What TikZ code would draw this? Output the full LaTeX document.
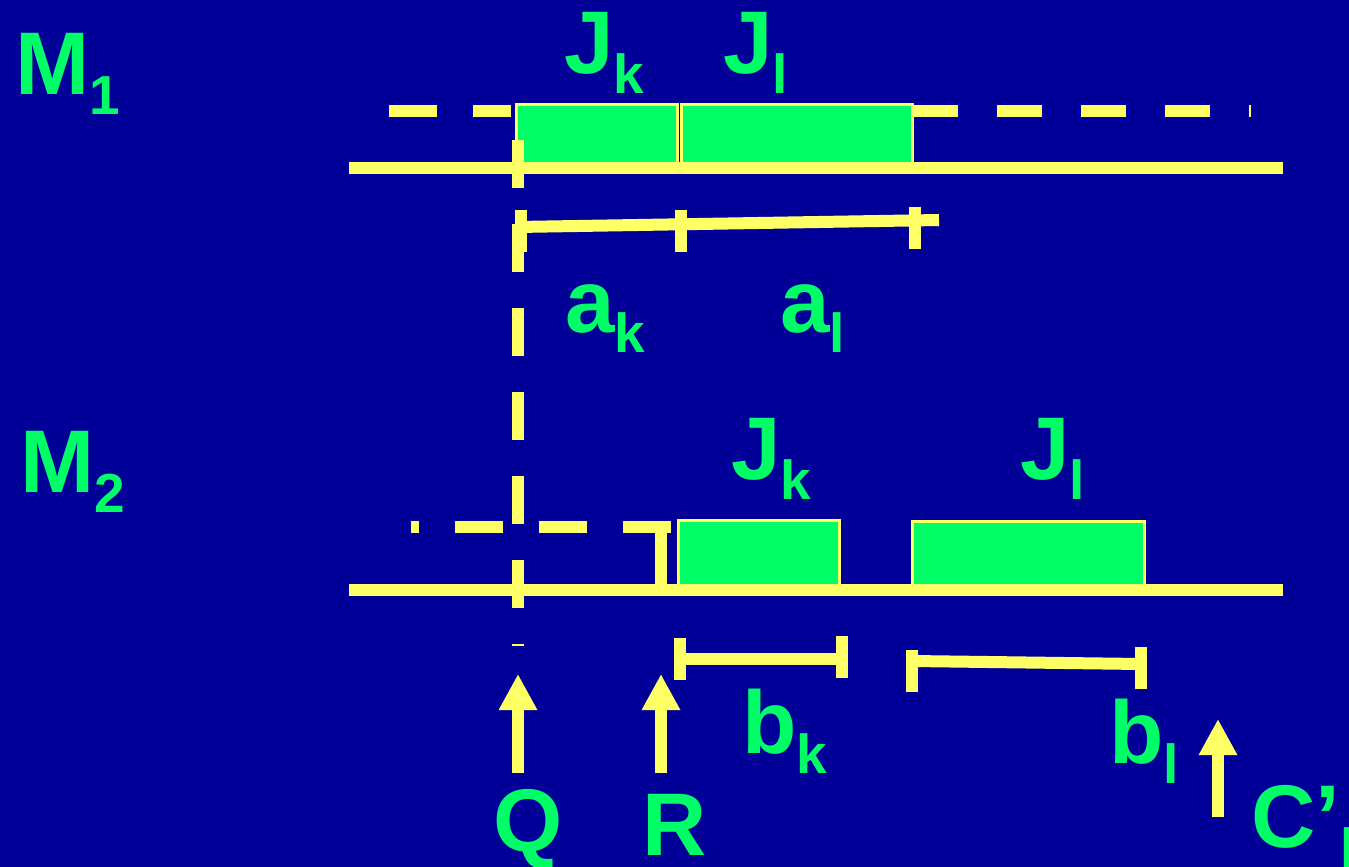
\documentclass[tikz,border=0pt]{standalone}
\usepackage{fontspec}
\setmainfont{Liberation Sans}
\usetikzlibrary{arrows.meta}
\definecolor{bg}{HTML}{000099}
\definecolor{ylw}{HTML}{FFFF66}
\definecolor{grn}{HTML}{00FF66}
\newcommand{\sublbl}[2]{#1\raisebox{-20pt}{\fontsize{55}{55}\selectfont #2}}
\tikzset{
  lbl/.style={text=grn, font=\bfseries\fontsize{89}{89}\selectfont, anchor=base west, inner sep=0pt},
  axis/.style={ylw, line width=12pt},
  gapline/.style={axis, dash pattern=on 48pt off 36pt},
  job/.style={fill=grn, draw=ylw, line width=3pt},
  ptr/.style={axis, -{Triangle[width=36pt,length=36pt]}}
}
\begin{document}
\begin{tikzpicture}[x=1pt,y=-1pt]
    \fill[bg] (0,0) rectangle (1349,867);
    \useasboundingbox (0,0) rectangle (1349,867);
    % machine 1
    \draw[job] (516,104) rectangle (677,168);
    \draw[job] (681,104) rectangle (912,168);
    \draw[axis] (349,167.5) -- (1283,167.5);
    \draw[gapline] (389,111) -- (511,111);
    \draw[axis, dash pattern=on 45pt off 39pt] (913,111) -- (1251,111);
    \node[lbl] (m1) at (15,95) {\sublbl{M}{1}};
    \node[lbl] (jk1) at (564,74) {\sublbl{J}{k}};
    \node[lbl] (jl1) at (723,74) {\sublbl{J}{l}};
    % a intervals
    \draw[axis] (517,227) -- (939,220);
    \draw[axis] (521,210) -- (521,252);
    \draw[axis] (681,210) -- (681,252);
    \draw[axis] (915,207) -- (915,249);
    \node[lbl] (ak) at (565,332) {\sublbl{a}{k}};
    \node[lbl] (al) at (780,332) {\sublbl{a}{l}};
    % time Q
    \draw[gapline] (518,140) -- (518,646);
    % machine 2
    \draw[job] (678,520) rectangle (839,590);
    \draw[job] (912,521) rectangle (1144,590);
    \draw[axis] (349,589.5) -- (1283,589.5);
    \draw[gapline, dash phase=40pt] (411,527) -- (671,527);
    \draw[axis] (661,533) -- (661,589);
    \node[lbl] (m2) at (20,492) {\sublbl{M}{2}};
    \node[lbl] (jk2) at (731,479) {\sublbl{J}{k}};
    \node[lbl] (jl2) at (1020,479) {\sublbl{J}{l}};
    % b intervals
    \draw[axis] (686,659) -- (848,659);
    \draw[axis] (680,638) -- (680,680);
    \draw[axis] (842,636) -- (842,678);
    \draw[axis] (912,661) -- (1141,664);
    \draw[axis] (912,650) -- (912,692);
    \draw[axis] (1141,647) -- (1141,689);
    \node[lbl] (bk) at (742,753) {\sublbl{b}{k}};
    \node[lbl] (bl) at (1109,763) {\sublbl{b}{l}};
    % arrows
    \node[lbl] (q) at (493,851) {Q};
    \node[lbl] (r) at (642,855) {R};
    \node[lbl] (cl) at (1251,847) {\sublbl{C’}{l}};
    \coordinate (qtail) at (518,773);
    \coordinate (qtip) at (518,674);
    \coordinate (rtail) at (661,773);
    \coordinate (rtip) at (661,674);
    \coordinate (ctail) at (1218,817);
    \coordinate (ctip) at (1218,719);
    \draw[ptr] (qtail) -- (qtip);
    \draw[ptr] (rtail) -- (rtip);
    \draw[ptr] (ctail) -- (ctip);
\end{tikzpicture}
\end{document}
